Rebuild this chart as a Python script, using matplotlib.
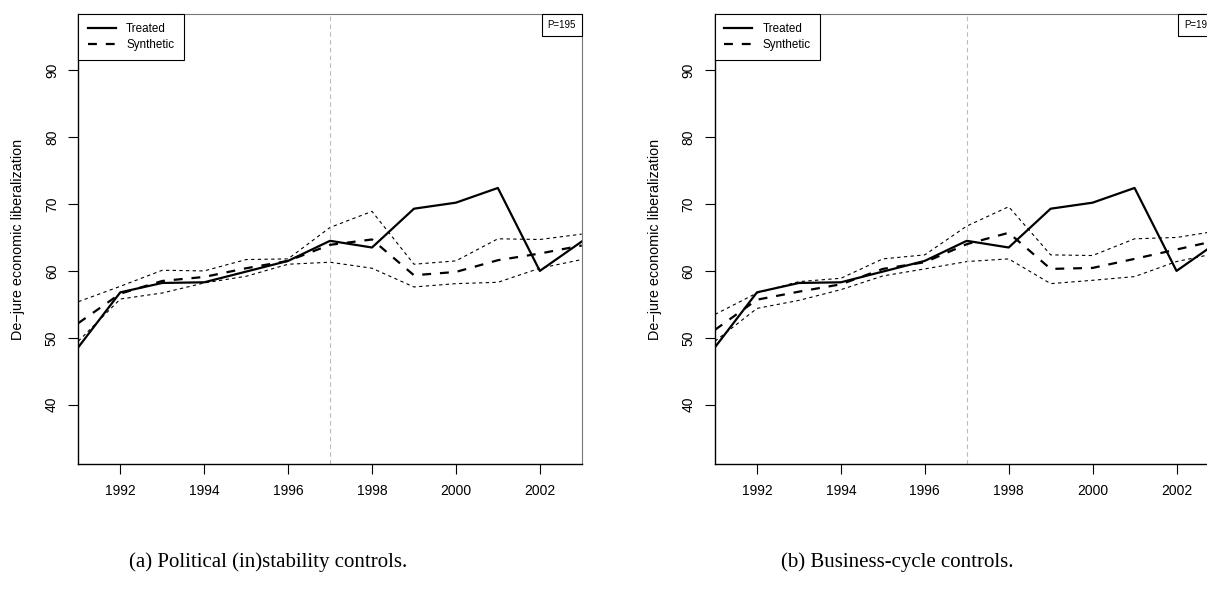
import matplotlib
matplotlib.use("Agg")
import matplotlib.pyplot as plt
from matplotlib.offsetbox import AnchoredText
from matplotlib.lines import Line2D

plt.rcParams['font.family'] = ['Liberation Sans', 'DejaVu Sans']

years = list(range(1991, 2004))

# treated unit (same in both panels)
treated = [48.6, 56.8, 58.2, 58.3, 59.9, 61.5, 64.5, 63.5, 69.3, 70.2, 72.4, 60.0, 64.4]

# (a) political (in)stability controls
synth_a = [52.2, 56.6, 58.5, 59.1, 60.4, 61.5, 63.9, 64.7, 59.35, 59.85, 61.6, 62.6, 63.8]
upper_a = [55.4, 57.7, 60.1, 60.0, 61.7, 61.8, 66.5, 68.9, 61.0, 61.5, 64.8, 64.7, 65.5]
lower_a = [49.5, 55.8, 56.7, 58.2, 59.2, 61.0, 61.3, 60.4, 57.6, 58.1, 58.3, 60.4, 61.7]

# (b) business-cycle controls
synth_b = [51.2, 55.7, 56.9, 58.0, 60.3, 61.3, 64.0, 65.7, 60.3, 60.45, 61.8, 63.2, 64.6]
upper_b = [53.5, 56.7, 58.4, 58.9, 61.8, 62.4, 66.7, 69.6, 62.4, 62.3, 64.8, 65.0, 66.0]
lower_b = [49.5, 54.4, 55.6, 57.2, 59.25, 60.3, 61.4, 61.8, 58.1, 58.6, 59.15, 61.4, 62.7]

xticks = [1992, 1994, 1996, 1998, 2000, 2002]
yticks = [40, 50, 60, 70, 80, 90]
treat_year = 1997
pval_label = "P=195"
captions = ["(a) Political (in)stability controls.", "(b) Business-cycle controls."]

fig = plt.figure(figsize=(12.07, 5.98), dpi=100)

def panel(ax, synth, upper, lower):
    ax.plot(years, upper, color='black', lw=0.8, ls=(0, (3, 3)))
    ax.plot(years, lower, color='black', lw=0.8, ls=(0, (3, 3)))
    ax.axvline(treat_year, color='#bbbbbb', lw=0.8, ls=(0, (4, 3)))
    ax.plot(years, synth, color='black', lw=1.6, ls=(0, (4, 4)))
    ax.plot(years, treated, color='black', lw=1.6)
    ax.set_xlim(1991, 2003)
    ax.set_ylim(31.1, 98.4)
    ax.set_xticks(xticks)
    ax.set_yticks(yticks)
    ax.tick_params(axis='both', direction='out', length=7, width=0.8, labelsize=10, pad=7)
    for lbl in ax.get_yticklabels():
        lbl.set_rotation(90)
        lbl.set_va('center')
    for side in ['top', 'right']:
        ax.spines[side].set_color('#777777')
    for side in ['left', 'bottom']:
        ax.spines[side].set_linewidth(1.0)
    ax.set_ylabel("De\u2212jure economic liberalization", fontsize=10.4)
    ax.yaxis.set_label_coords(-0.106, 0.5)
    handles = [Line2D([], [], color='black', lw=1.6),
               Line2D([], [], color='black', lw=1.6, ls=(0, (4, 4)))]
    leg = ax.legend(handles, ["Treated", "Synthetic"], loc='upper left',
                    borderaxespad=0, fancybox=False, edgecolor='black',
                    framealpha=1, fontsize=8.4, handlelength=2.4,
                    handletextpad=0.9, borderpad=0.8, labelspacing=0.3)
    leg.get_frame().set_linewidth(0.8)
    at = AnchoredText(pval_label, loc='upper right', borderpad=0, pad=0.6,
                      prop=dict(size=7), frameon=True)
    at.patch.set_boxstyle("square,pad=0")
    at.patch.set_linewidth(0.8)
    ax.add_artist(at)

ax1 = fig.add_axes([0.0649, 0.2236, 0.4171, 0.753])
panel(ax1, synth_a, upper_a, lower_a)
ax2 = fig.add_axes([0.5924, 0.2236, 0.4171, 0.753])
panel(ax2, synth_b, upper_b, lower_b)

fig.text(268 / 1207, 1 - 562 / 598, captions[0], ha='center', va='center',
         fontsize=15, family='Liberation Serif')
fig.text(897 / 1207, 1 - 562 / 598, captions[1], ha='center', va='center',
         fontsize=15, family='Liberation Serif')

fig.savefig('out.png', dpi=100)
